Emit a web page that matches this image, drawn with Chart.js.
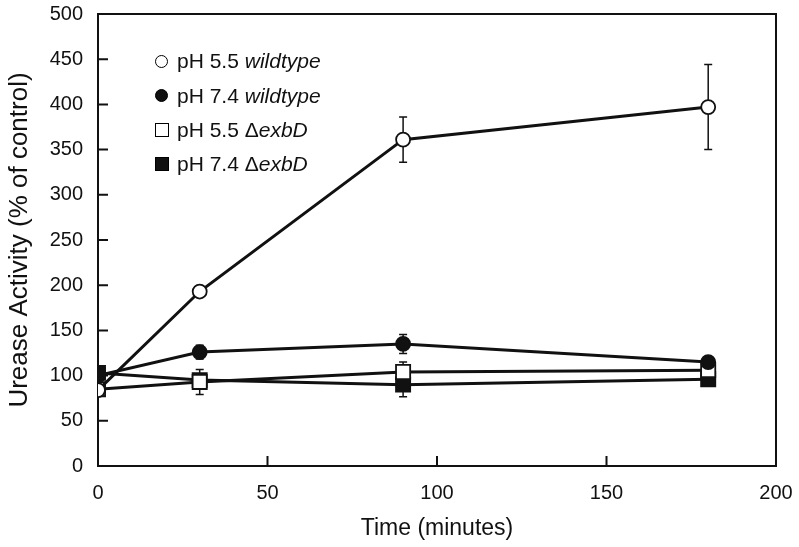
<!DOCTYPE html>
<html>
<head>
<meta charset="utf-8">
<script src="https://cdn.jsdelivr.net/npm/chart.js@4"></script>
<style>
    body { margin: 0; background: #fff; }
    #wrap { position: relative; width: 799px; height: 547px; }
    #legend { position: absolute; left: 0; top: 0; font-family: "Liberation Sans", Arial, sans-serif; font-size: 21px; color: #111; }
    .row { position: absolute; left: 150px; height: 26px; line-height: 26px; white-space: nowrap; }
    .mk { position: absolute; left: 5px; box-sizing: border-box; border: 1.5px solid #000; }
    .row span.txt { position: absolute; left: 27px; }
</style>
</head>
<body>
<div id="wrap">
    <canvas id="ureaseChart" width="799" height="547"></canvas>
    <div id="legend"></div>
</div>
<script>
// time points (minutes)
const timePoints = [0, 30, 90, 180];

// urease activity, % of control
const ph55Wildtype = [84, 193, 361, 397];
const ph74Wildtype = [100, 126, 135, 115];
const ph55ExbD = [85, 93, 104, 106];
const ph74ExbD = [103, 95, 90, 96];

// error bar half-lengths
const ph55WildtypeErr = [0, 4, 25, 47];
const ph74WildtypeErr = [0, 7.5, 10.5, 2];
const ph55ExbDErr = [0, 13.8, 11, 2];
const ph74ExbDErr = [0, 5, 13.5, 2];

const seriesNames = ['pH 5.5 ', 'pH 7.4 ', 'pH 5.5 ', 'pH 7.4 '];
const seriesPrefix = ['', '', 'Δ', 'Δ'];
const seriesItalic = ['wildtype', 'wildtype', 'exbD', 'exbD'];

const xTicks = [0, 50, 100, 150, 200];
const yTicks = [0, 50, 100, 150, 200, 250, 300, 350, 400, 450, 500];

function toPoints(values) {
    return values.map((v, i) => ({ x: timePoints[i], y: v }));
}

// Comment: frame + inward tick marks, drawn under the markers
const framePlugin = {
    id: 'frame',
    beforeDatasetsDraw(chart) {
        const { ctx, chartArea: a, scales: { x, y } } = chart;
        ctx.save();
        ctx.strokeStyle = '#111';
        ctx.lineWidth = 2;
        ctx.strokeRect(a.left, a.top, a.right - a.left, a.bottom - a.top);
        ctx.beginPath();
        yTicks.forEach(v => {
            const py = y.getPixelForValue(v);
            ctx.moveTo(a.left, py);
            ctx.lineTo(a.left + 10, py);
        });
        xTicks.forEach(v => {
            const px = x.getPixelForValue(v);
            ctx.moveTo(px, a.bottom);
            ctx.lineTo(px, a.bottom - 10);
        });
        ctx.stroke();
        ctx.restore();
    }
};

// Comment: vertical error bars with small caps
const errorBarPlugin = {
    id: 'errorBars',
    beforeDatasetsDraw(chart) {
        const { ctx, scales: { x, y } } = chart;
        ctx.save();
        ctx.strokeStyle = '#111';
        ctx.lineWidth = 1.5;
        chart.data.datasets.forEach(ds => {
            ds.data.forEach((p, i) => {
                const e = ds.errors[i];
                if (!e) return;
                const px = x.getPixelForValue(p.x);
                const top = y.getPixelForValue(p.y + e);
                const bot = y.getPixelForValue(p.y - e);
                ctx.beginPath();
                ctx.moveTo(px, top);
                ctx.lineTo(px, bot);
                ctx.moveTo(px - 4, top);
                ctx.lineTo(px + 4, top);
                ctx.moveTo(px - 4, bot);
                ctx.lineTo(px + 4, bot);
                ctx.stroke();
            });
        });
        ctx.restore();
    }
};

function makeDataset(label, values, errors, style, fill) {
    return {
        label: label,
        data: toPoints(values),
        errors: errors,
        borderColor: '#111',
        borderWidth: 3,
        showLine: true,
        tension: 0,
        pointStyle: style,
        pointRadius: style === 'rect' ? 10 : 7,
        pointHoverRadius: style === 'rect' ? 10 : 7,
        pointBorderWidth: 1.8,
        pointBorderColor: '#111',
        pointBackgroundColor: fill
    };
}

const datasets = [
    makeDataset('pH 5.5 wildtype', ph55Wildtype, ph55WildtypeErr, 'circle', '#fff'),
    makeDataset('pH 7.4 wildtype', ph74Wildtype, ph74WildtypeErr, 'circle', '#111'),
    makeDataset('pH 5.5 ΔexbD', ph55ExbD, ph55ExbDErr, 'rect', '#fff'),
    makeDataset('pH 7.4 ΔexbD', ph74ExbD, ph74ExbDErr, 'rect', '#111')
];

const fontFamily = '"Liberation Sans", Arial, sans-serif';

new Chart(document.getElementById('ureaseChart').getContext('2d'), {
    type: 'scatter',
    data: { datasets: datasets },
    plugins: [framePlugin, errorBarPlugin],
    options: {
        responsive: false,
        animation: false,
        layout: { padding: { left: 0, right: 23, top: 14, bottom: 0 } },
        plugins: {
            legend: { display: false },
            tooltip: { enabled: false }
        },
        scales: {
            x: {
                type: 'linear',
                min: 0,
                max: 200,
                afterFit: s => { s.height = 81; s.paddingLeft = 0; s.paddingRight = 0; },
                afterBuildTicks: s => { s.ticks = xTicks.map(v => ({ value: v })); },
                ticks: { color: '#111', font: { family: fontFamily, size: 20 }, padding: 15, maxRotation: 0 },
                grid: { display: false, drawTicks: false },
                border: { display: false },
                title: { display: true, text: 'Time (minutes)', color: '#111', font: { family: fontFamily, size: 23 }, padding: { top: 0, bottom: 5 } }
            },
            y: {
                min: 0,
                max: 500,
                afterFit: s => { s.width = 98; s.paddingTop = 0; s.paddingBottom = 0; },
                afterBuildTicks: s => { s.ticks = yTicks.map(v => ({ value: v })); },
                ticks: { color: '#111', font: { family: fontFamily, size: 20 }, padding: 15 },
                grid: { display: false, drawTicks: false },
                border: { display: false },
                title: { display: true, text: 'Urease Activity (% of control)', color: '#111', font: { family: fontFamily, size: 26 }, padding: { top: 4, bottom: 0 } }
            }
        }
    }
});

// Comment: legend inside the plot, built from the same series info
const legendRows = [61, 95.5, 130, 164];
const legend = document.getElementById('legend');
datasets.forEach((ds, i) => {
    const row = document.createElement('div');
    row.className = 'row';
    row.style.top = (legendRows[i] - 13) + 'px';
    const mk = document.createElement('div');
    mk.className = 'mk';
    const size = ds.pointStyle === 'rect' ? 14 : 13;
    mk.style.width = size + 'px';
    mk.style.height = size + 'px';
    mk.style.top = (13 - size / 2) + 'px';
    mk.style.background = ds.pointBackgroundColor;
    if (ds.pointStyle === 'circle') mk.style.borderRadius = '50%';
    row.appendChild(mk);
    const txt = document.createElement('span');
    txt.className = 'txt';
    txt.innerHTML = seriesNames[i] + seriesPrefix[i] + '<i>' + seriesItalic[i] + '</i>';
    row.appendChild(txt);
    legend.appendChild(row);
});
</script>
</body>
</html>
